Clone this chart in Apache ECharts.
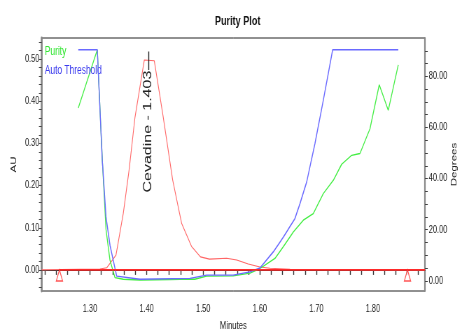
<!DOCTYPE html>
<html><head><meta charset="utf-8">
<script src="https://cdn.jsdelivr.net/npm/echarts@6/dist/echarts.min.js"></script>
<style>html,body{margin:0;padding:0;background:#fff;overflow:hidden;width:459px;height:330px}
#c{width:656px;height:330px;transform:scaleX(0.7);transform-origin:0 0}</style>
</head><body><div id="c"></div>
<script>
// ---- data ----
const xRange = [1.2147, 1.8919];
const auRange = [-0.05, 0.55];
const degRange = [-4, 95];
const xTickLabels = [1.30, 1.40, 1.50, 1.60, 1.70, 1.80];
const xTicks = [1.22,1.24,1.26,1.28,1.30,1.32,1.34,1.36,1.38,1.40,1.42,1.44,1.46,1.48,1.50,1.52,1.54,1.56,1.58,1.60,1.62,1.64,1.66,1.68,1.70,1.72,1.74,1.76,1.78,1.80,1.82,1.84,1.86,1.88];
const auTickLabels = [0.00, 0.10, 0.20, 0.30, 0.40, 0.50];
const auTicks = [-0.04,-0.02,0,0.02,0.04,0.06,0.08,0.10,0.12,0.14,0.16,0.18,0.20,0.22,0.24,0.26,0.28,0.30,0.32,0.34,0.36,0.38,0.40,0.42,0.44,0.46,0.48,0.50,0.52,0.54];
const degTickLabels = [0, 20, 40, 60, 80];
const degTicks = [0,5,10,15,20,25,30,35,40,45,50,55,60,65,70,75,80,85,90];

const chromTime = [1.2147, 1.3177, 1.3295, 1.3459, 1.3588, 1.3690, 1.3795, 1.3960, 1.4136, 1.4290, 1.4461, 1.4620, 1.4793, 1.4952, 1.5111, 1.5415, 1.5592, 1.5797, 1.6003, 1.6180, 1.6534, 1.7000, 1.8919];
const chromAU   = [0.000, 0.002, 0.005, 0.035, 0.134, 0.236, 0.362, 0.498, 0.496, 0.366, 0.213, 0.110, 0.056, 0.031, 0.0255, 0.0277, 0.0236, 0.0142, 0.0071, 0.004, 0.0017, 0.001, 0.000];

const purityTime = [1.2793, 1.3129, 1.3217, 1.3283, 1.3353, 1.3442, 1.3588, 1.3883, 1.4413, 1.4767, 1.4850, 1.5060, 1.5530, 1.5827, 1.6003, 1.6268, 1.6415, 1.6592, 1.6769, 1.6945, 1.7122, 1.7299, 1.7447, 1.7624, 1.7770, 1.7947, 1.8111, 1.8270, 1.8447];
const purityDeg  = [67.6, 90.4, 47.5, 20.0, 8.0, 1.2, 0.6, 0.3, 0.5, 0.7, 0.6, 1.8, 1.9, 3.0, 4.8, 8.75, 13.3, 19.1, 23.7, 26.3, 34.1, 39.3, 45.6, 49.1, 49.8, 59.5, 76.7, 66.7, 84.5];

const thresholdTime = [1.2793, 1.3129, 1.3217, 1.3283, 1.3353, 1.3472, 1.3883, 1.4767, 1.5060, 1.5530, 1.5827, 1.6003, 1.6238, 1.6415, 1.6622, 1.6710, 1.6829, 1.6975, 1.7122, 1.7288, 1.8447];
const thresholdDeg  = [90.4, 90.4, 47.1, 25.0, 13.9, 1.8, 0.6, 0.95, 2.2, 2.2, 3.5, 5.0, 11.3, 17.0, 24.4, 30.2, 38.7, 53.7, 70.6, 90.4, 90.4];

const baselineTime = [1.246, 1.8919];
const baselineAU = [0, 0];
const markerTime = [1.246, 1.861];
const markerAU = [0, 0];
const peakTime = 1.403;
const peakLineAU = [0.518, 0.474];
const peakLabelAU = 0.328;
const peakLabel = 'Cevadine - 1.403';

// ---- chart ----
const zip = (a, b) => a.map((v, i) => [v, b[i]]);
const FONT = "'Liberation Sans',Arial,sans-serif";
const chart = echarts.init(document.getElementById('c'), null, {renderer: 'canvas', width: 656, height: 330});
chart.setOption({
  animation: false,
  backgroundColor: '#fff',
  textStyle: {fontFamily: FONT},
  title: {text: 'Purity Plot', left: 302, top: 10,
    textStyle: {fontSize: 13, fontWeight: 'bold', color: '#111', fontFamily: FONT}},
  legend: {left: 59, top: 45, orient: 'vertical', icon: 'none', itemWidth: 0, itemHeight: 13, itemGap: 7, padding: 0,
    textStyle: {fontSize: 12, fontFamily: FONT},
    data: [{name: 'Purity', textStyle: {color: '#33e633'}}, {name: 'Auto Threshold', textStyle: {color: '#3a3aee'}}]},
  grid: {left: 59.6, right: 48.9, top: 38, bottom: 39, show: true, borderColor: '#222', borderWidth: 1, containLabel: false, outerBoundsMode: 'none'},
  xAxis: {type: 'value', min: xRange[0], max: xRange[1], name: 'Minutes', nameLocation: 'middle', nameGap: 29, nameMoveOverlap: false,
    nameTextStyle: {fontSize: 11, color: '#222', fontFamily: FONT},
    axisLine: {show: true, lineStyle: {color: '#222', width: 1.2}},
    axisTick: {show: true, length: 5, customValues: xTicks, lineStyle: {color: '#333', width: 1.4}},
    axisLabel: {customValues: xTickLabels, formatter: v => v.toFixed(2), fontSize: 10.5, color: '#222', margin: 13, fontFamily: FONT},
    splitLine: {show: false}},
  yAxis: [
    {type: 'value', position: 'left', min: auRange[0], max: auRange[1], name: 'AU', nameLocation: 'middle', nameGap: 34, nameRotate: 90, nameMoveOverlap: false,
     nameTextStyle: {fontSize: 11.5, color: '#222', fontFamily: FONT},
     axisLine: {show: true, lineStyle: {color: '#888', width: 2.8}},
     axisTick: {show: true, length: 4, customValues: auTicks, lineStyle: {color: '#444'}},
     axisLabel: {customValues: auTickLabels, formatter: v => v.toFixed(2), fontSize: 10.5, color: '#222', margin: 3.5, fontFamily: FONT},
     splitLine: {show: false}},
    {type: 'value', position: 'right', min: degRange[0], max: degRange[1], name: 'Degrees', nameLocation: 'middle', nameGap: 36, nameRotate: 90, nameMoveOverlap: false,
     nameTextStyle: {fontSize: 11.5, color: '#222', fontFamily: FONT},
     axisLine: {show: true, lineStyle: {color: '#888', width: 2.2}},
     axisTick: {show: true, length: 4, customValues: degTicks, lineStyle: {color: '#444'}},
     axisLabel: {customValues: degTickLabels, formatter: v => v.toFixed(2), fontSize: 10.5, color: '#222', margin: 5.5, fontFamily: FONT},
     splitLine: {show: false}}
  ],
  series: [
    {name: 'Chromatogram', type: 'line', yAxisIndex: 0, data: zip(chromTime, chromAU), showSymbol: false,
     lineStyle: {color: '#ff6666', width: 1.1}, z: 2,
     markLine: {silent: true, symbol: 'none', label: {show: false}, lineStyle: {color: '#222', width: 1.4, type: 'solid'},
       data: [[{coord: [peakTime, peakLineAU[0]]}, {coord: [peakTime, peakLineAU[1]]}]]},
     markPoint: {silent: true, symbol: 'circle', symbolSize: 0,
       data: [{coord: [peakTime, peakLabelAU]}],
       label: {show: true, position: 'inside', rotate: 90, formatter: peakLabel, fontSize: 16, color: '#222', fontFamily: FONT}}},
    {name: 'Purity', type: 'line', yAxisIndex: 1, data: zip(purityTime, purityDeg), showSymbol: false,
     lineStyle: {color: '#44ee44', width: 1.3}, itemStyle: {color: '#44ee44'}, z: 3},
    {name: 'Auto Threshold', type: 'line', yAxisIndex: 1, data: zip(thresholdTime, thresholdDeg), showSymbol: false,
     lineStyle: {color: '#6a6aff', width: 1.4}, itemStyle: {color: '#6a6aff'}, z: 4},
    {name: 'Baseline', type: 'line', yAxisIndex: 0, data: zip(baselineTime, baselineAU), showSymbol: false,
     lineStyle: {color: '#ff2a2a', width: 1.8}, z: 5},
    {name: 'Markers', type: 'scatter', yAxisIndex: 0, data: zip(markerTime, markerAU), symbol: 'triangle', symbolSize: [9, 11], symbolOffset: [0, '50%'],
     itemStyle: {color: '#fff', borderColor: '#ff2a2a', borderWidth: 1.3}, z: 6}
  ]
});
</script></body></html>
